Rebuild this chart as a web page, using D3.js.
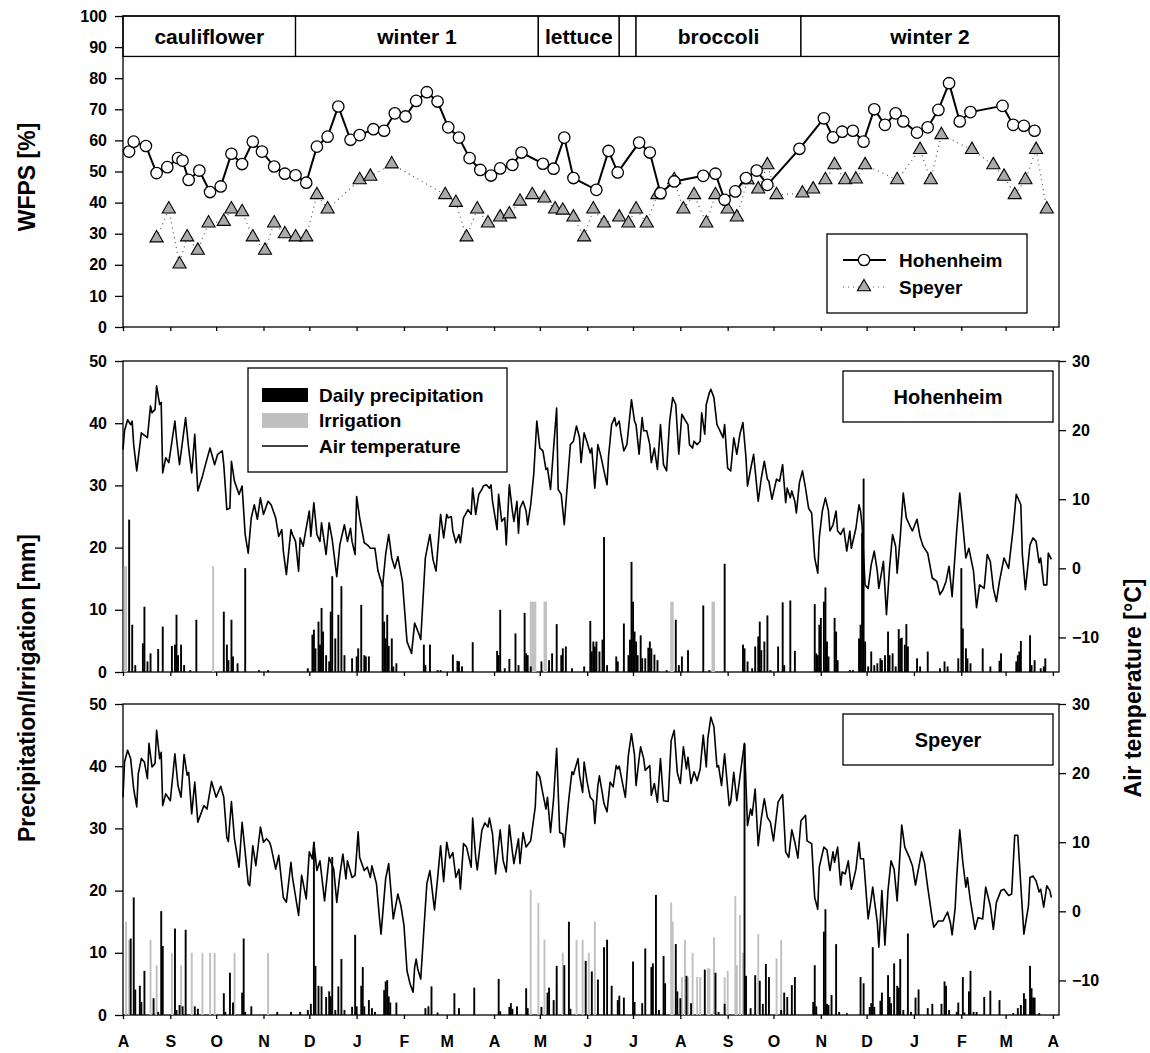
<!DOCTYPE html>
<html>
<head>
<meta charset="utf-8">
<script src="https://cdn.jsdelivr.net/npm/d3@7"></script>
<style>
	body { margin: 0; background: #fff; }
	svg text { font-family: "Liberation Sans", Arial, sans-serif; font-weight: bold; }
</style>
</head>
<body>
<svg id="chart" width="1150" height="1053"></svg>
<script>
"use strict";

// days are counted from 1 Aug 2010
var start_date = new Date(2010, 7, 1),
	end_date = new Date(2012, 3, 5);

var month_letters = ["J","F","M","A","M","J","J","A","S","O","N","D"];

var crop_names = ["cauliflower", "winter 1", "lettuce", "", "broccoli", "winter 2"],
	crop_start = [0, 113, 272, 325, 336, 444],
	crop_end = [113, 272, 325, 336, 444, 613];

var wfps_ticks = [0,10,20,30,40,50,60,70,80,90,100],
	rain_ticks = [0,10,20,30,40,50],
	temp_ticks = [-10,0,10,20,30];

//WFPS, Hohenheim
var hoh_wfps_day = [4,7,15,22,29,36,39,43,50,57,64,71,78,85,91,99,106,113,120,127,
	134,141,149,155,164,171,178,185,192,199,206,213,220,227,234,241,247,255,261,275,
	282,289,295,310,318,324,338,345,352,361,380,388,394,401,408,415,422,443,459,465,
	471,478,485,492,499,506,511,520,527,534,541,548,555,576,583,590,597];
var hoh_wfps = [56.4,59.6,58.2,49.5,51.4,54.3,53.5,47.3,50.3,43.4,45.2,55.7,52.4,59.6,56.4,51.6,49.3,48.8,46.4,58.0,
	61.2,70.9,60.2,61.7,63.6,63.1,68.7,67.7,72.7,75.5,72.5,64.2,60.9,54.3,50.5,48.7,51.0,52.1,56.1,52.5,
	50.9,60.9,47.9,44.1,56.6,49.7,59.3,56.1,43.0,46.8,48.6,49.3,40.9,43.6,47.9,50.3,45.7,57.3,67.1,61.0,
	62.8,63.1,59.6,70.0,65.0,68.7,66.1,62.5,64.2,69.8,78.4,66.1,69.1,71.1,65.0,64.7,63.1];

//WFPS, Speyer
var sp_wfps_day = [22,30,37,42,49,56,66,71,78,85,93,99,106,113,120,127,134,155,162,176,
	211,218,225,232,239,247,253,260,268,276,283,288,295,302,308,315,325,331,336,343,
	350,361,367,374,382,388,396,402,409,416,422,428,445,452,460,466,473,480,486,507,
	522,529,536,556,570,577,584,591,598,605];
var sp_wfps = [28.6,37.9,20.2,28.9,24.6,33.4,33.9,37.9,37.0,28.9,24.6,33.4,29.9,28.9,28.9,42.5,37.9,47.3,48.4,52.4,
	42.5,40.0,28.9,37.9,33.4,35.3,36.3,40.4,42.5,41.4,37.9,37.5,35.3,28.9,37.9,33.4,35.3,33.4,37.9,33.4,
	42.5,47.3,37.9,42.5,33.4,42.5,37.9,35.3,47.3,44.3,52.1,42.5,43.0,44.3,47.3,52.1,47.3,47.5,52.1,47.3,
	57.0,47.3,61.8,57.0,52.1,48.4,42.5,47.3,57.0,37.9];

//air temperature [day, degC], Hohenheim
var hoh_temp = [[0,17.2],[1,19.9],[3,21.5],[5,20.8],[6,21.3],[7,17.9],[9,14.1],[12,19.6],[16,18.9],[18,23.5],[19,22.5],[21,23.0],[22,26.4],[24,23.7],[25,24.0],[26,13.8],[28,16.0],[30,15.3],[34,21.3],[35,18.9],[37,15.0],[41,21.8],[43,17.4],[45,13.8],[47,19.4],[49,11.2],[52,13.3],[54,15.0],[57,17.4],[60,15.0],[62,16.5],[65,17.0],[66,15.0],[68,8.5],[70,8.7],[71,15.5],[73,12.6],[76,10.7],[78,11.9],[80,4.9],[82,2.2],[84,7.3],[86,9.2],[88,7.1],[90,10.2],[92,7.8],[95,9.7],[97,9.2],[100,7.3],[102,4.6],[104,5.6],[105,2.5],[107,-0.9],[110,5.6],[111,4.9],[113,3.9],[115,-0.4],[116,4.4],[118,3.2],[119,4.6],[122,8.3],[123,4.6],[125,9.5],[127,4.9],[129,3.9],[130,6.6],[133,2.0],[135,6.6],[137,4.2],[140,-1.2],[142,3.4],[145,6.3],[147,3.9],[149,5.8],[150,3.9],[152,2.0],[153,10.4],[155,7.3],[158,3.7],[160,3.4],[162,2.9],[165,2.9],[167,-0.4],[170,-2.6],[172,2.0],[174,4.9],[176,1.5],[178,0.0],[180,1.7],[183,-1.9],[186,-10.6],[189,-12.3],[191,-7.9],[194,-9.6],[195,-10.3],[198,1.5],[201,4.9],[203,1.3],[205,-0.4],[208,7.8],
	[210,4.4],[212,7.8],[213,7.3],[215,7.5],[216,5.4],[218,3.7],[220,4.9],[221,3.7],[223,7.3],[226,8.5],[228,7.8],[229,11.6],[231,7.8],[233,10.7],[235,11.4],[236,11.9],[238,12.1],[240,11.6],[241,12.1],[242,9.7],[245,5.6],[246,10.7],[248,6.8],[250,7.3],[251,3.4],[253,12.1],[255,8.3],[256,6.8],[258,9.7],[259,5.1],[260,8.7],[262,9.7],[264,8.3],[265,6.3],[267,9.2],[269,13.6],[271,21.3],[273,17.4],[275,17.0],[277,14.3],[278,14.5],[280,11.4],[282,17.4],[284,23.2],[285,11.4],[287,10.7],[289,6.3],[291,12.1],[293,17.9],[295,18.4],[297,20.6],[299,18.9],[300,15.3],[302,19.6],[304,18.2],[306,16.7],[307,17.4],[309,11.6],[311,17.9],[313,16.2],[315,14.1],[317,12.1],[318,16.2],[320,20.8],[322,21.8],[323,20.6],[325,21.3],[326,19.6],[328,17.0],[330,17.9],[333,24.4],[335,21.3],[336,20.8],[338,16.5],[340,21.8],[341,19.9],[343,19.9],[345,17.9],[346,15.3],[348,17.4],[350,14.3],[352,20.8],[354,15.0],[356,14.1],[358,21.3],[360,24.7],[362,23.7],[364,16.5],[366,22.3],[368,21.5],[370,20.8],[371,17.9],[373,17.4],[374,18.4],[376,17.9],[378,18.4],[379,22.5],[381,19.4],[382,23.7],[384,25.4],[385,25.9],[387,24.7],[389,20.8],[391,19.9],[393,18.9],[394,20.8],[396,14.5],[398,14.1],[400,18.9],[402,16.5],[404,19.4],[406,21.1],[408,16.0],[409,11.9],[411,14.3],[413,16.5],[416,9.7],
	[418,13.0],[420,15.5],[422,12.9],[423,12.6],[425,10.0],[428,12.9],[430,12.6],[432,15.0],[434,9.5],[435,11.6],[437,10.2],[438,11.2],[440,9.7],[441,8.0],[443,12.4],[445,14.1],[447,11.6],[449,8.7],[451,8.0],[453,1.5],[455,-0.7],[456,4.4],[458,8.3],[460,10.2],[462,8.3],[463,5.4],[465,6.3],[467,8.3],[468,5.4],[470,4.9],[472,5.8],[474,2.5],[476,5.4],[477,2.9],[480,5.8],[482,9.2],[483,8.3],[484,6.3],[486,-2.4],[488,-2.9],[490,0.5],[492,2.5],[494,-0.4],[495,-2.9],[498,1.0],[500,-6.7],[502,0.0],[504,4.9],[506,3.2],[507,-0.7],[509,4.4],[511,10.9],[513,7.3],[515,6.3],[517,5.4],[520,7.1],[522,4.6],[524,3.2],[527,2.2],[530,-1.4],[533,-1.9],[535,-3.8],[537,-3.1],[539,-1.9],[541,0.3],[543,-4.1],[546,5.4],[548,10.9],[550,6.3],[552,1.5],[554,2.9],[557,-0.4],[559,-5.7],[561,-2.4],[564,-2.9],[566,2.0],[568,1.0],[570,-2.9],[572,-4.8],[574,-1.9],[577,1.5],[580,0.0],[583,5.8],[585,10.7],[588,9.2],[589,2.0],[591,-3.1],[594,3.4],[596,4.4],[598,3.9],[600,0.8],[601,1.5],[603,-2.4],[605,-2.4],[606,2.2],[608,1.3]];

//air temperature [day, degC], Speyer
var sp_temp = [[0,16.5],[1,21.6],[3,23.3],[5,22.1],[7,17.7],[9,15.1],[10,19.9],[12,22.1],[14,21.6],[16,19.2],[17,24.3],[19,20.9],[21,21.4],[22,26.2],[24,22.1],[25,23.0],[26,15.3],[28,17.0],[31,16.0],[34,22.8],[36,18.2],[38,16.5],[40,22.7],[42,19.7],[43,20.1],[45,14.1],[47,18.7],[49,12.9],[51,14.1],[53,15.3],[55,14.8],[58,18.8],[61,16.5],[64,18.1],[66,16.5],[68,10.7],[69,10.1],[71,15.9],[73,10.5],[76,6.4],[78,12.9],[80,8.6],[82,4.0],[83,3.7],[85,9.5],[87,6.6],[90,12.2],[92,10.0],[94,10.5],[96,10.0],[97,9.3],[100,6.1],[102,8.1],[105,2.0],[107,1.3],[110,7.1],[111,4.9],[115,-0.6],[117,5.2],[120,1.8],[122,8.6],[124,7.6],[125,10.0],[127,5.9],[129,7.3],[132,1.5],[135,7.8],[138,6.1],[140,1.3],[142,5.2],[144,8.3],[146,4.7],[147,7.3],[150,4.9],[152,5.2],[154,11.5],[155,7.8],[158,5.9],[160,6.4],[162,4.9],[163,6.6],[166,4.0],[168,-1.1],[169,-3.3],[172,4.7],[174,6.9],[177,-1.1],[180,2.5],[182,0.8],[184,-2.0],[186,-8.6],[188,-10.5],[190,-11.7],[191,-8.1],[192,-6.9],[193,-8.3],[195,-9.8],[197,-2.8],[199,4.0],[201,5.9],[204,0.2],[206,4.7],[208,9.5],[210,4.3],[212,10.0],[214,7.7],[216,8.5],[218,4.9],[220,6.1],[221,3.2],[223,9.8],[225,9.3],[228,6.4],[229,13.5],[231,7.8],[232,6.0],[235,11.7],[237,12.8],[239,12.2],[240,13.5],[242,11.2],[244,5.4],[247,11.8],[249,7.3],[251,5.7],[253,12.5],[255,8.6],[256,6.9],[259,10.5],[260,6.9],[262,11.4],[264,9.3],[267,10.2],[270,15.1],[271,20.2],[273,19.4],[275,17.0],[277,14.8],[278,16.5],[280,11.4],[282,16.3],[284,23.6],[286,11.4],[288,11.2],[289,9.3],[292,16.3],[294,20.2],[295,19.8],[298,22.1],[299,19.7],[301,17.2],[302,21.6],[304,18.7],[306,16.5],[308,16.0],[309,12.7],[311,18.2],[312,19.6],[314,17.0],[315,15.6],[317,14.4],[319,18.7],[321,18.0],[323,21.1],[324,20.6],[325,21.0],[327,18.7],[329,16.5],[331,22.6],[333,25.7],[335,22.6],[336,18.2],[338,22.1],[339,23.8],[341,22.1],[342,20.4],[345,21.1],[346,16.8],[348,18.5],[350,15.8],[352,22.1],[354,16.0],[357,15.9],[359,24.7],[361,26.2],[363,20.1],[365,18.5],[367,23.8],[369,20.6],[370,22.3],[372,18.5],[374,20.2],[376,18.9],[378,20.6],[380,25.5],[382,20.9],[383,25.0],[385,28.1],[387,26.7],[389,20.9],[390,21.1],[392,18.2],[394,22.8],[397,15.3],[398,15.8],[400,20.1],[402,16.0],[405,21.1],[407,24.3],[409,12.4],[411,14.8],[412,13.9],[414,17.7],[416,9.5],[418,13.4],[420,16.3],[422,13.6],[424,12.9],[426,10.2],[429,15.8],[432,16.9],[434,8.6],[436,7.8],[438,11.8],[440,10.0],[442,7.7],[444,13.1],[447,13.9],[448,10.2],[451,9.8],[453,2.0],[455,0.3],[456,6.4],[459,9.3],[461,8.9],[463,5.9],[465,8.6],[466,7.1],[468,9.3],[470,3.8],[471,5.7],[473,5.4],[475,7.3],[477,3.2],[480,6.1],[482,10.0],[483,7.6],[485,7.6],[488,-1.1],[490,1.8],[491,3.5],[494,-1.6],[495,-5.2],[497,3.0],[499,-4.9],[501,3.0],[503,7.3],[505,6.1],[507,1.5],[510,12.5],[512,9.3],[515,7.8],[517,6.6],[519,3.8],[523,8.6],[525,6.9],[527,3.5],[530,-1.1],[531,-2.3],[534,-1.4],[537,-1.4],[540,-0.1],[542,-1.8],[543,-3.4],[545,0.5],[546,4.9],[548,11.8],[550,7.1],[552,3.5],[553,4.9],[555,1.5],[558,-2.6],[560,-0.9],[563,-1.1],[565,3.5],[568,0.8],[570,-2.6],[572,1.3],[575,3.0],[577,3.2],[580,2.3],[582,2.5],[584,11.0],[586,11.0],[588,3.7],[590,-3.3],[593,0.8],[594,4.9],[596,5.1],[598,4.4],[600,2.8],[601,3.2],[603,0.6],[605,3.7],[607,3.0],[608,2.0]];

//daily precipitation [day, mm], Hohenheim
var hoh_rain = [[4,24.5],[6,7.6],[8,1.1],[13,4.6],[14,10.5],[16,1.7],[18,3.0],[23,3.7],[26,7.3],[32,4.2],[34,4.4],[35,9.2],[36,2.7],[38,4.4],[40,1.1],[44,0.3],[48,8.4],[66,9.7],[68,4.4],[69,1.9],[71,8.4],[72,2.5],[75,1.4],[80,16.7],[89,0.3],[95,0.3],[121,0.6],[124,6.0],[125,6.8],[126,3.8],[128,8.1],[129,4.4],[130,10.3],[131,6.5],[133,2.7],[135,1.7],[136,9.7],[137,15.4],[139,5.4],[141,9.2],[143,13.8],[145,2.7],[150,2.2],[153,2.5],[154,3.8],[156,10.8],[158,2.7],[159,2.5],[161,2.5],[170,14.0],[171,8.1],[172,5.4],[173,9.2],[174,4.2],[176,5.4],[177,0.9],[179,1.4],[197,4.4],[198,1.1],[201,4.4],[206,0.3],[208,0.3],[216,2.8],[219,1.8],[220,1.7],[222,0.9],[229,4.8],[245,3.4],[246,2.7],[247,10.0],[250,0.6],[253,2.1],[257,6.2],[259,1.1],[263,9.5],[264,3.0],[265,2.7],[267,0.9],[274,1.7],[279,1.9],[281,3.0],[284,7.7],[287,2.7],[288,3.8],[290,4.1],[294,0.6],[302,0.9],[306,8.2],[307,3.3],[308,4.9],[309,4.1],[310,4.9],[312,3.3],[314,5.2],[315,21.7],[317,1.1],[323,2.5],[324,1.7],[328,7.8],[331,2.7],[332,5.2],[333,17.7],[334,11.3],[335,6.5],[336,4.9],[337,2.7],[339,5.9],[340,2.2],[342,2.2],[344,3.9],[345,4.9],[346,3.8],[348,2.8],[350,1.9],[356,0.3],[362,8.4],[364,1.1],[366,2.5],[370,3.5],[380,10.7],[384,0.3],[394,17.4],[406,4.4],[407,3.8],[409,1.7],[412,0.6],[414,4.1],[416,5.7],[417,8.1],
	[418,3.5],[420,4.9],[422,9.1],[424,0.3],[429,4.1],[432,11.2],[433,1.1],[437,11.5],[440,3.4],[453,10.9],[454,3.0],[455,2.7],[456,7.6],[457,8.7],[459,11.3],[460,13.6],[461,4.9],[462,2.5],[466,8.7],[467,6.5],[468,1.9],[476,0.3],[478,0.3],[482,5.4],[483,7.6],[484,22.4],[485,31.1],[486,4.9],[488,0.9],[490,3.3],[492,1.1],[494,1.4],[496,2.2],[497,1.9],[499,2.7],[501,6.5],[502,2.7],[504,3.0],[506,0.9],[508,6.9],[509,5.4],[510,5.5],[512,4.4],[513,7.7],[514,4.1],[520,2.2],[522,0.9],[527,3.3],[535,0.6],[538,1.7],[540,0.9],[547,2.2],[549,16.7],[550,7.0],[552,3.8],[553,2.2],[555,1.4],[563,3.8],[568,0.9],[574,1.8],[575,3.0],[585,1.7],[586,2.7],[587,3.3],[588,5.0],[594,5.9],[595,1.1],[597,1.9],[601,0.6],[603,0.9],[604,2.2]];

//irrigation [day, mm], Hohenheim
var hoh_irr = [[1,17.0],[2,17.0],[59,17.0],[267,11.3],[268,11.3],[269,11.3],[270,11.3],[276,11.3],[277,11.3],[359,11.3],[360,11.3],[386,11.3],[387,11.3]];

//daily precipitation [day, mm], Speyer
var sp_rain = [[5,12.3],[7,18.9],[8,4.1],[11,4.7],[12,2.1],[14,7.1],[20,2.7],[23,0.5],[25,16.7],[26,11.1],[34,13.9],[35,0.8],[37,1.6],[39,1.4],[41,13.7],[47,1.4],[49,1.0],[66,3.5],[67,0.5],[70,6.8],[72,2.0],[78,3.6],[79,12.3],[80,0.5],[84,1.4],[101,0.5],[110,0.5],[116,0.5],[121,0.8],[123,1.8],[125,27.8],[126,7.9],[128,4.7],[130,4.6],[133,2.9],[135,3.8],[136,3.0],[137,25.4],[139,0.8],[141,4.6],[143,9.0],[145,0.8],[150,1.3],[152,12.9],[153,1.4],[156,4.7],[157,7.7],[158,1.4],[161,2.4],[163,1.1],[165,0.5],[171,4.0],[172,5.4],[173,5.6],[174,3.0],[175,2.0],[179,2.0],[198,1.1],[200,1.4],[202,4.6],[206,0.4],[217,3.5],[220,1.1],[230,4.4],[246,5.8],[247,0.6],[253,1.3],[254,1.9],[255,1.0],[258,1.4],[264,4.3],[265,1.1],[274,1.3],[278,3.6],[279,4.4],[282,2.4],[284,7.9],[289,8.0],[292,15.0],[293,1.0],[303,8.7],[307,7.0],[311,5.7],[315,10.9],[317,12.1],[320,4.7],[324,2.4],[325,3.1],[328,2.8],[334,8.6],[335,2.1],[340,1.9],[342,10.7],[346,7.7],[347,8.3],[349,19.3],[351,0.8],[354,9.5],[355,5.1],[362,11.4],[363,3.8],[365,2.7],[369,6.3],[372,1.9],[381,7.3],[388,6.8],[390,0.5],[394,1.8],[407,43.6],[408,6.3],[411,1.1],[414,6.4],[417,5.5],[419,1.8],[421,8.2],[423,6.1],[431,0.8],[433,3.6],[435,2.9],[438,4.8],[440,6.1],[452,2.1],[453,8.0],[454,1.4],[459,13.4],[460,17.0],[461,1.8],[462,1.6],[464,3.2],[467,11.4],[469,0.5],[474,0.3],[483,6.1],[485,5.1],[489,1.3],[490,1.9],[491,10.9],[492,1.3],[496,2.3],[497,3.6],[501,6.4],[502,2.9],[503,1.9],[505,8.3],[507,4.7],[508,4.4],[509,9.0],[511,0.8],[514,13.1],[516,0.5],[519,2.8],[521,4.1],[527,1.1],[530,1.8],[536,1.8],[538,5.4],[539,4.7],[541,0.8],[546,0.5],[547,2.0],[550,6.1],[551,0.4],[554,3.8],[555,7.1],[557,0.5],[559,0.5],[564,2.9],[568,3.9],[574,2.4],[583,0.3],[586,1.1],[588,1.6],[590,3.5],[591,2.6],[594,7.9],[595,4.3],[596,2.8],[597,2.8],[600,0.3]];

//irrigation [day, mm], Speyer
var sp_irr = [[2,15.0],[4,12.1],[18,12.1],[22,8.0],[32,10.0],[38,8.0],[45,10.0],[52,10.0],[57,10.0],[60,10.0],[73,10.0],[95,10.0],[267,20.1],[272,18.0],[276,12.1],[284,5.1],[288,10.0],[297,12.1],[301,12.1],[305,10.0],[309,15.0],[359,18.1],[360,15.0],[366,6.1],[368,12.1],[370,6.1],[373,10.0],[376,6.1],[378,6.1],[383,7.5],[384,7.5],[387,12.5],[394,6.1],[396,7.1],[401,19.1],[402,8.0],[404,16.1],[406,10.0],[416,13.0],[428,9.1],[431,12.1]];


var font = "Liberation Sans, Arial, sans-serif",
	left_x = 123,
	right_x = 1059;

var svg = d3.select("#chart");

var x = d3.scaleTime().domain([start_date, end_date]).range([left_x, right_x]);
function dayX(d) { return x(d3.timeDay.offset(start_date, d)); }

var months = d3.timeMonth.range(start_date, d3.timeDay.offset(end_date, 1));

function styleAxis(g, size) {
	g.attr("font-family", font).attr("font-size", size).attr("font-weight", "bold");
	g.selectAll("path, line").attr("stroke", "#000").attr("stroke-width", 1.3);
	g.selectAll("text").attr("fill", "#000");
}

function frame(top, bottom) {
	svg.append("rect")
		.attr("x", left_x).attr("y", top)
		.attr("width", right_x - left_x).attr("height", bottom - top)
		.attr("fill", "none").attr("stroke", "#000").attr("stroke-width", 1.3);
}

function bottomAxis(y0, labels) {
	var ax = d3.axisBottom(x).tickValues(months).tickSize(4).tickSizeOuter(0);
	if(labels) ax.tickPadding(17).tickFormat(function(d) { return month_letters[d.getMonth()]; });
	else ax.tickFormat("");
	var g = svg.append("g").attr("transform", "translate(0," + y0 + ")").call(ax);
	g.select(".domain").remove();
	styleAxis(g, 16);
}

//--- WFPS panel
var p1_top = 16, p1_bottom = 327;
var y_wfps = d3.scaleLinear().domain([0, 100]).range([p1_bottom, p1_top]);

//crop band
var band = svg.append("g");
crop_names.forEach(function(name, i) {
	var x0 = dayX(crop_start[i]), x1 = Math.min(dayX(crop_end[i]), right_x);
	band.append("rect")
		.attr("x", x0).attr("y", y_wfps(100))
		.attr("width", x1 - x0).attr("height", y_wfps(87) - y_wfps(100))
		.attr("fill", "#fff").attr("stroke", "#000").attr("stroke-width", 1.3);
	band.append("text")
		.attr("x", (x0 + x1) / 2).attr("y", (y_wfps(100) + y_wfps(87)) / 2)
		.attr("dy", "0.36em").attr("text-anchor", "middle")
		.attr("font-size", 21).text(name);
});

frame(p1_top, p1_bottom);

var gy1 = svg.append("g").attr("transform", "translate(" + left_x + ",0)")
	.call(d3.axisLeft(y_wfps).tickValues(wfps_ticks).tickSize(8).tickPadding(8).tickSizeOuter(0));
gy1.select(".domain").remove();
styleAxis(gy1, 16);
bottomAxis(p1_bottom, false);

var hoh_pts = hoh_wfps_day.map(function(d, i) { return [d, hoh_wfps[i]]; }),
	sp_pts = sp_wfps_day.map(function(d, i) { return [d, sp_wfps[i]]; });

var wfps_line = d3.line()
	.x(function(d) { return dayX(d[0]); })
	.y(function(d) { return y_wfps(d[1]); });

svg.append("path").datum(sp_pts)
	.attr("d", wfps_line).attr("fill", "none")
	.attr("stroke", "#555").attr("stroke-width", 1.2).attr("stroke-dasharray", "1,4");

svg.append("path").datum(hoh_pts)
	.attr("d", wfps_line).attr("fill", "none")
	.attr("stroke", "#000").attr("stroke-width", 2);

var tri = d3.symbol().type(d3.symbolTriangle).size(75);

svg.selectAll(".sp_mark").data(sp_pts).enter().append("path")
	.attr("class", "sp_mark")
	.attr("d", tri)
	.attr("transform", function(d) { return "translate(" + dayX(d[0]) + "," + y_wfps(d[1]) + ")"; })
	.attr("fill", "#aaa").attr("stroke", "#000").attr("stroke-width", 1.1);

svg.selectAll(".hoh_mark").data(hoh_pts).enter().append("circle")
	.attr("class", "hoh_mark")
	.attr("cx", function(d) { return dayX(d[0]); })
	.attr("cy", function(d) { return y_wfps(d[1]); })
	.attr("r", 5.7)
	.attr("fill", "#fff").attr("stroke", "#000").attr("stroke-width", 1.3);

//legend of WFPS panel
var lg1 = svg.append("g");
lg1.append("rect").attr("x", 827).attr("y", 234).attr("width", 200).attr("height", 79)
	.attr("fill", "#fff").attr("stroke", "#000").attr("stroke-width", 1.3);
lg1.append("line").attr("x1", 843).attr("x2", 886).attr("y1", 260).attr("y2", 260)
	.attr("stroke", "#000").attr("stroke-width", 2);
lg1.append("circle").attr("cx", 864).attr("cy", 260).attr("r", 5.7)
	.attr("fill", "#fff").attr("stroke", "#000").attr("stroke-width", 1.3);
lg1.append("line").attr("x1", 843).attr("x2", 886).attr("y1", 287).attr("y2", 287)
	.attr("stroke", "#555").attr("stroke-width", 1.2).attr("stroke-dasharray", "1,4");
lg1.append("path").attr("d", tri).attr("transform", "translate(864,287)")
	.attr("fill", "#aaa").attr("stroke", "#000").attr("stroke-width", 1.1);
lg1.append("text").attr("x", 899).attr("y", 260).attr("dy", "0.36em").attr("font-size", 19).text("Hohenheim");
lg1.append("text").attr("x", 899).attr("y", 287).attr("dy", "0.36em").attr("font-size", 19).text("Speyer");

//--- weather panels
var panels = [
	{ top: 361, bottom: 672, rain: hoh_rain, irr: hoh_irr, temp: hoh_temp, name: "Hohenheim", legend: true, labels: false },
	{ top: 704, bottom: 1015, rain: sp_rain, irr: sp_irr, temp: sp_temp, name: "Speyer", legend: false, labels: true }
];

panels.forEach(function(p) {
	var y_rain = d3.scaleLinear().domain([0, 50]).range([p.bottom, p.top]),
		y_temp = d3.scaleLinear().domain([-15, 30]).range([p.bottom, p.top]);

	frame(p.top, p.bottom);

	var g = svg.append("g");

	g.selectAll(".irr").data(p.irr).enter().append("rect")
		.attr("x", function(d) { return dayX(d[0]) - 0.9; })
		.attr("width", 1.9)
		.attr("y", function(d) { return y_rain(d[1]); })
		.attr("height", function(d) { return p.bottom - y_rain(d[1]); })
		.attr("fill", "#c0c0c0");

	g.selectAll(".rain").data(p.rain).enter().append("rect")
		.attr("x", function(d) { return dayX(d[0]) - 0.9; })
		.attr("width", 1.9)
		.attr("y", function(d) { return y_rain(d[1]); })
		.attr("height", function(d) { return p.bottom - y_rain(d[1]); })
		.attr("fill", "#000");

	g.append("path").datum(p.temp)
		.attr("d", d3.line()
			.x(function(d) { return dayX(d[0]); })
			.y(function(d) { return y_temp(d[1]); }))
		.attr("fill", "none").attr("stroke", "#000").attr("stroke-width", 1.6)
		.attr("stroke-linejoin", "round");

	var gl = svg.append("g").attr("transform", "translate(" + left_x + ",0)")
		.call(d3.axisLeft(y_rain).tickValues(rain_ticks).tickSize(8).tickPadding(8).tickSizeOuter(0));
	gl.select(".domain").remove();
	styleAxis(gl, 16);

	var gr = svg.append("g").attr("transform", "translate(" + right_x + ",0)")
		.call(d3.axisRight(y_temp).tickValues(temp_ticks).tickSize(7).tickPadding(6).tickSizeOuter(0));
	gr.select(".domain").remove();
	styleAxis(gr, 16);

	bottomAxis(p.bottom, p.labels);

	//station box
	svg.append("rect").attr("x", 843).attr("y", p.top + 10).attr("width", 210).attr("height", 51)
		.attr("fill", "#fff").attr("stroke", "#000").attr("stroke-width", 1.3);
	svg.append("text").attr("x", 948).attr("y", p.top + 36).attr("dy", "0.36em")
		.attr("text-anchor", "middle").attr("font-size", 20).text(p.name);

	if(p.legend) {
		var lg = svg.append("g");
		lg.append("rect").attr("x", 248).attr("y", p.top + 7).attr("width", 259).attr("height", 104)
			.attr("fill", "#fff").attr("stroke", "#000").attr("stroke-width", 1.3);
		lg.append("rect").attr("x", 262).attr("y", p.top + 27).attr("width", 46).attr("height", 14).attr("fill", "#000");
		lg.append("rect").attr("x", 262).attr("y", p.top + 52).attr("width", 46).attr("height", 15).attr("fill", "#c0c0c0");
		lg.append("line").attr("x1", 262).attr("x2", 308).attr("y1", p.top + 85).attr("y2", p.top + 85)
			.attr("stroke", "#000").attr("stroke-width", 1.6);
		[["Daily precipitation", 34], ["Irrigation", 59.5], ["Air temperature", 85]].forEach(function(t) {
			lg.append("text").attr("x", 319).attr("y", p.top + t[1]).attr("dy", "0.36em")
				.attr("font-size", 19).text(t[0]);
		});
	}
});

//axis titles
function vTitle(tx, ty, label) {
	svg.append("text")
		.attr("transform", "translate(" + tx + "," + ty + ") rotate(-90)")
		.attr("text-anchor", "middle").attr("dy", "0.36em")
		.attr("font-size", 23).text(label);
}
vTitle(27, 177, "WFPS [%]");
vTitle(27, 688, "Precipitation/Irrigation [mm]");
vTitle(1133, 688, "Air temperature [°C]");
</script>
</body>
</html>
